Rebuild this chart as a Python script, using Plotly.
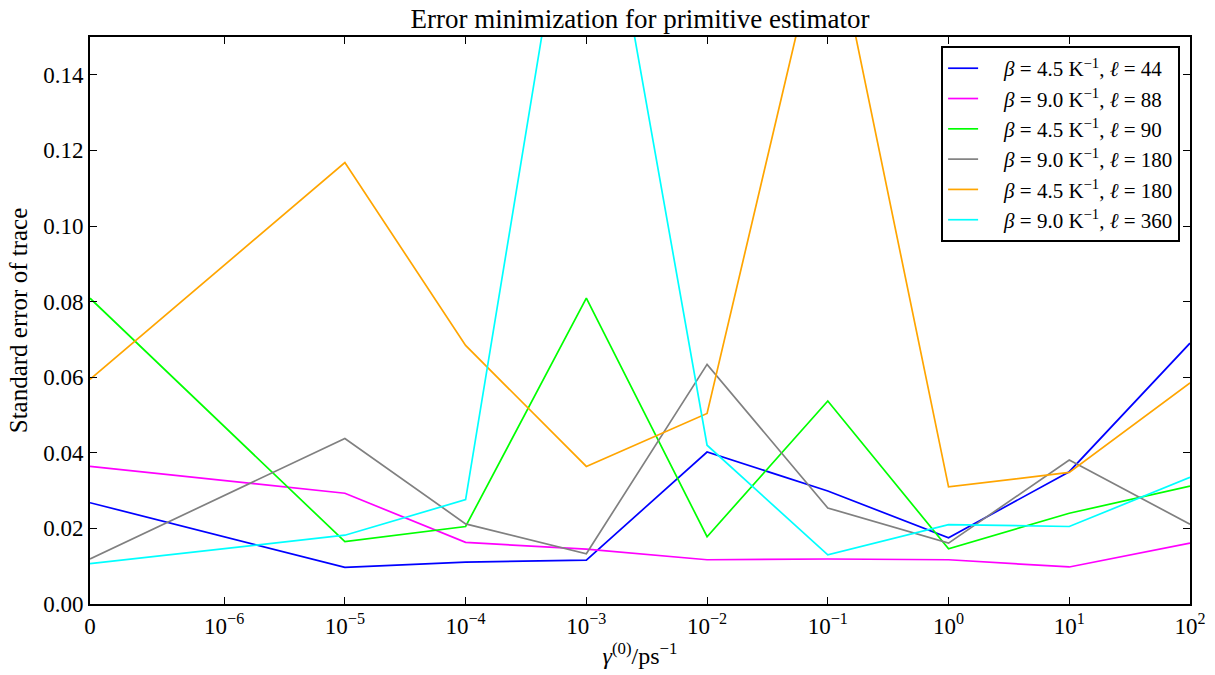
import numpy as np
import plotly.graph_objects as go

# x values (gamma^(0) in ps^-1)
gamma = [0, 1e-5, 1e-4, 1e-3, 1e-2, 1e-1, 1e0, 1e1, 1e2]

# series values (standard error of trace)
blue_44 = [0.0268, 0.0097, 0.0111, 0.0116, 0.0402, 0.0299, 0.0175, 0.0350, 0.0690]
magenta_88 = [0.0364, 0.0293, 0.0163, 0.0145, 0.0117, 0.0119, 0.0117, 0.0098, 0.0161]
green_90 = [0.0809, 0.0165, 0.0205, 0.0809, 0.0178, 0.0537, 0.0146, 0.0240, 0.0312]
gray_180 = [0.0119, 0.0438, 0.0212, 0.0133, 0.0634, 0.0254, 0.0161, 0.0381, 0.0211]
orange_180 = [0.0594, 0.1168, 0.0684, 0.0364, 0.0504, 0.186, 0.0310, 0.0348, 0.0585]
cyan_360 = [0.0107, 0.0182, 0.0276, 0.222, 0.0420, 0.0130, 0.0210, 0.0205, 0.0335]

labels = [
    "<i>β</i> = 4.5 K<sup>−1</sup>, <i>ℓ</i> = 44",
    "<i>β</i> = 9.0 K<sup>−1</sup>, <i>ℓ</i> = 88",
    "<i>β</i> = 4.5 K<sup>−1</sup>, <i>ℓ</i> = 90",
    "<i>β</i> = 9.0 K<sup>−1</sup>, <i>ℓ</i> = 180",
    "<i>β</i> = 4.5 K<sup>−1</sup>, <i>ℓ</i> = 180",
    "<i>β</i> = 9.0 K<sup>−1</sup>, <i>ℓ</i> = 360",
]
series = [blue_44, magenta_88, green_90, gray_180, orange_180, cyan_360]
colors = ["#0000ff", "#ff00ff", "#00ff00", "#808080", "#ffa500", "#00ffff"]

tick_values = [0, 1e-6, 1e-5, 1e-4, 1e-3, 1e-2, 1e-1, 1e0, 1e1, 1e2]
tick_labels = ["0", "10<sup>−6</sup>", "10<sup>−5</sup>", "10<sup>−4</sup>", "10<sup>−3</sup>",
               "10<sup>−2</sup>", "10<sup>−1</sup>", "10<sup>0</sup>", "10<sup>1</sup>", "10<sup>2</sup>"]
y_ticks = [0, 0.02, 0.04, 0.06, 0.08, 0.10, 0.12, 0.14]
y_tick_labels = ["0.00", "0.02", "0.04", "0.06", "0.08", "0.10", "0.12", "0.14"]


def symlog(g, linthresh=1e-6, linscale=1.0, base=10.0):
    adj = linscale / (1.0 - 1.0 / base)
    if abs(g) <= linthresh:
        return g / linthresh * adj
    return np.sign(g) * (adj + np.log(abs(g) / linthresh) / np.log(base))


xpos = [symlog(g) for g in gamma]
tickpos = [symlog(t) for t in tick_values]

FONT = "Liberation Serif"
W, H = 1215, 675

fig = go.Figure()
for i, (name, ys, c) in enumerate(zip(labels, series, colors)):
    fig.add_trace(go.Scatter(x=xpos, y=ys, mode="lines", name="\u2002\u2002" + name,
                             line=dict(color=c, width=1.7), legendgroup=f"g{i}"))

fig.update_layout(
    width=W, height=H,
    margin=dict(l=90, r=25, t=37, b=71, autoexpand=False),
    paper_bgcolor="white", plot_bgcolor="white",
    font=dict(family=FONT, size=22, color="black"),
    title=dict(text="Error minimization for primitive estimator", x=0.5, xref="paper",
               y=1 - 19 / H, yref="container", xanchor="center", yanchor="middle",
               font=dict(size=27, family=FONT)),
    legend=dict(x=0.991, y=0.984, xanchor="right", yanchor="top",
                bgcolor="white", bordercolor="black", borderwidth=2,
                font=dict(size=21, family=FONT), tracegroupgap=0, itemwidth=30),
    showlegend=True,
)
fig.update_xaxes(range=[0, symlog(100)], tickvals=tickpos, ticktext=tick_labels,
                 showgrid=False, zeroline=False, showline=True, linecolor="black", linewidth=2,
                 mirror="ticks", ticks="inside", ticklen=7, tickwidth=1, tickcolor="black",
                 tickfont=dict(size=23, family=FONT), automargin=False,
                 title=dict(text="<i>γ</i><sup>(0)</sup>/ps<sup>−1</sup>", font=dict(size=24, family=FONT), standoff=4))
fig.update_yaxes(range=[0, 0.15], tickvals=y_ticks, ticktext=y_tick_labels,
                 showgrid=False, zeroline=False, showline=True, linecolor="black", linewidth=2,
                 mirror="ticks", ticks="inside", ticklen=7, tickwidth=1, tickcolor="black",
                 tickfont=dict(size=23, family=FONT), automargin=False,
                 title=dict(text="Standard error of trace", font=dict(size=25, family=FONT), standoff=8))

# remove the default 8px page margin so the figure fills the window exactly
fig.write_html("out.html", config={"displayModeBar": False},
               post_script="document.body.style.margin='0';")
